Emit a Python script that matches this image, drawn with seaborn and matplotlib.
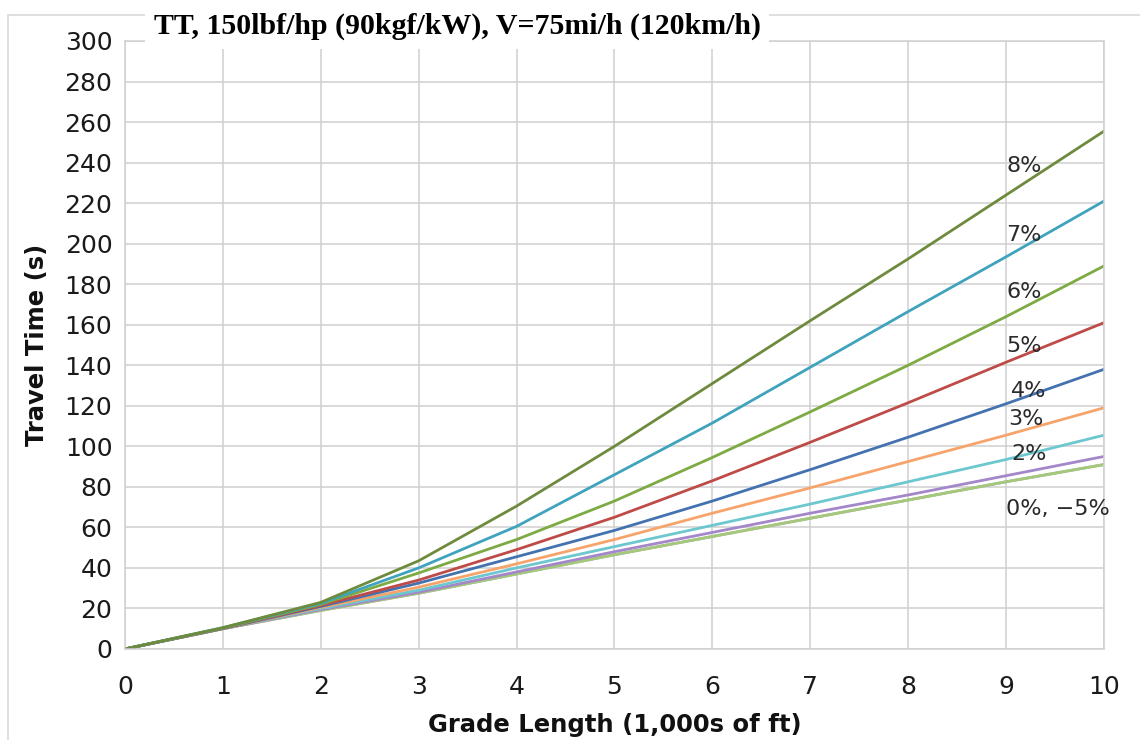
import numpy as np
import pandas as pd
import matplotlib
matplotlib.use("Agg")
import matplotlib.pyplot as plt
from matplotlib.patches import Rectangle
import seaborn as sns

# grade length, 1,000s of ft
length = [0, 1, 2, 3, 4, 5, 6, 7, 8, 9, 10]

# travel time (s)
tt_m5 = [0, 10, 19, 27.5, 37, 46.5, 55.5, 64.5, 73.5, 82.5, 91]
tt_0 = [0, 10, 19, 27.5, 37, 46.5, 55.5, 64.5, 73.5, 82.5, 91]
tt_1 = [0, 10, 19.5, 28, 38, 48, 57.5, 67, 76, 85.5, 95]
tt_2 = [0, 10, 20, 29, 40, 50.5, 61, 71.5, 82.5, 93.5, 105.5]
tt_3 = [0, 10, 20.5, 30.5, 42, 54, 67, 79.5, 92.5, 105.5, 119]
tt_4 = [0, 10.1, 21, 32.5, 45.5, 58.5, 73, 88.5, 104.5, 121, 138]
tt_5 = [0, 10.2, 21.5, 34, 49, 65, 83, 102, 121.5, 141.5, 161]
tt_6 = [0, 10.3, 22, 37.5, 54, 73, 94.5, 117, 140, 164, 189]
tt_7 = [0, 10.5, 22.5, 40, 60.5, 86, 111.5, 139, 166.5, 193.5, 221]
tt_8 = [0, 10.5, 23, 43.5, 70.5, 100, 131, 162, 192.5, 224, 255.5]

grades = ["-5%", "0%", "1%", "2%", "3%", "4%", "5%", "6%", "7%", "8%"]
series = [tt_m5, tt_0, tt_1, tt_2, tt_3, tt_4, tt_5, tt_6, tt_7, tt_8]
colors = ["#A6A6A6", "#A5C97B", "#A487C9", "#6CC7CF", "#F6A46B",
          "#4472B0", "#BE4B48", "#7DAA43", "#3FA3BD", "#6E8B3D"]

# label text and where it sits
lbl_text = ["8%", "7%", "6%", "5%", "4%", "3%", "2%", "0%, \u22125%"]
lbl_x = [9.0, 9.0, 9.0, 9.0, 9.05, 9.02, 9.05, 9.0]
lbl_y = [238.5, 204.5, 176, 149.5, 127.5, 113.5, 96, 69]

rows = []
for g, vals in zip(grades, series):
    for x, v in zip(length, vals):
        rows.append({"Grade": g, "Length": x, "Time": v})
df = pd.DataFrame(rows)

sns.set_style("white")
plt.rcParams['font.family'] = ['DejaVu Sans']

fig = plt.figure(figsize=(11.4, 7.4), dpi=100)
ax = fig.add_axes([0.1096, 0.123, 0.8588, 0.8216])

sns.lineplot(data=df, x="Length", y="Time", hue="Grade", hue_order=grades,
             palette=colors, linewidth=2.0, legend=False, ax=ax)

ax.set_xlim(0, 10)
ax.set_ylim(0, 300)
ax.set_xticks(range(0, 11))
ax.set_yticks(range(0, 301, 20))
ax.grid(True, color="#D0D0D0", linewidth=1.1)
ax.set_axisbelow(True)
for s in ax.spines.values():
    s.set_color("#D0D0D0")
    s.set_linewidth(1.1)
ax.tick_params(length=0, labelsize=18, colors="#1a1a1a")
ax.tick_params(axis="x", pad=19)
ax.tick_params(axis="y", pad=9)

ax.set_xlabel("Grade Length (1,000s of ft)", fontsize=17.5, fontweight="bold",
              color="#111111", labelpad=10)
ax.set_ylabel("Travel Time (s)", fontsize=17.5, fontweight="bold",
              color="#111111", labelpad=11)

for t, x, y in zip(lbl_text, lbl_x, lbl_y):
    ax.text(x, y, t, fontsize=16, color="#2a2a2a", ha="left", va="center")

# outer chart frame
fig.patches.append(Rectangle((8 / 1140, -0.01), 1.1, 1 - 15 / 740 + 0.01,
                             transform=fig.transFigure, fill=False,
                             edgecolor="#D9D9D9", linewidth=1.2))

fig.text(0.401, 0.964, "TT, 150lbf/hp (90kgf/kW), V=75mi/h (120km/h)",
         family=["Liberation Serif", "DejaVu Serif"], fontweight="bold",
         fontsize=21.5, ha="center", va="center", color="black",
         bbox=dict(facecolor="white", edgecolor="none", pad=6))

fig.savefig("out.png", dpi=100)
